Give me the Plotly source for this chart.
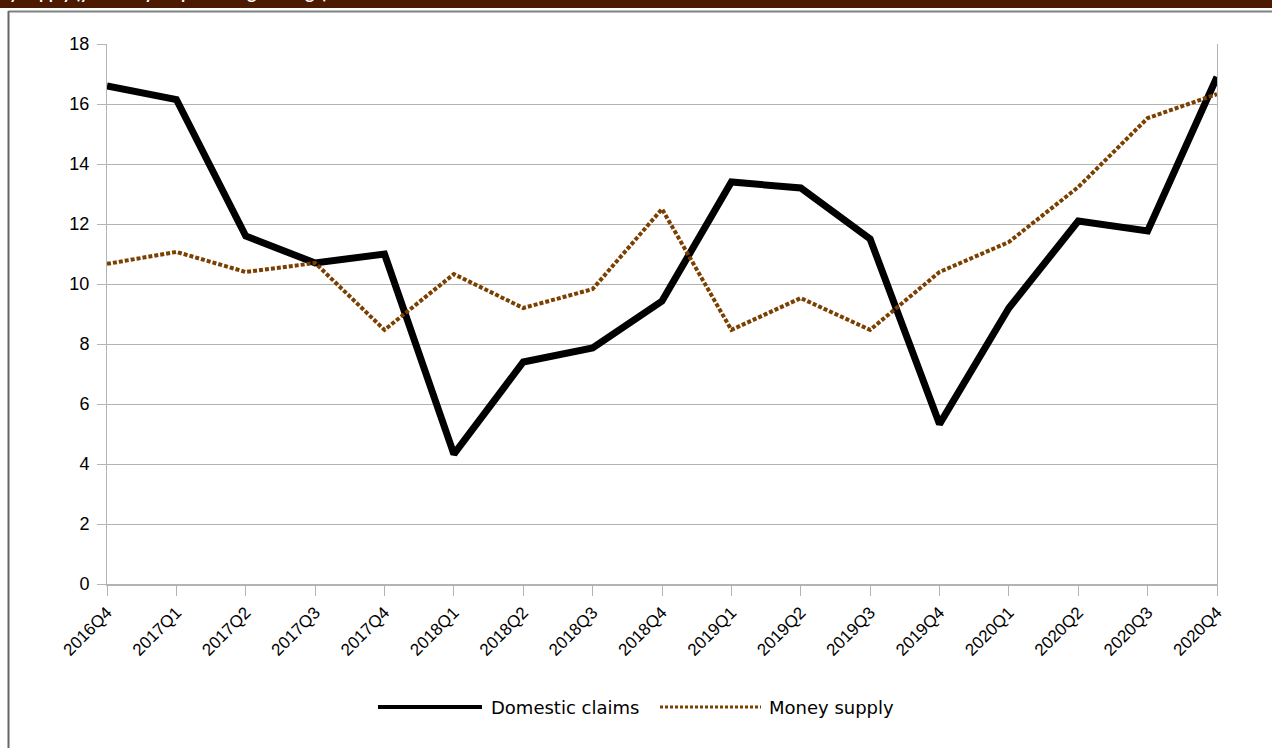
import plotly.graph_objects as go

quarters = ["2016Q4", "2017Q1", "2017Q2", "2017Q3", "2017Q4", "2018Q1", "2018Q2", "2018Q3",
            "2018Q4", "2019Q1", "2019Q2", "2019Q3", "2019Q4", "2020Q1", "2020Q2", "2020Q3", "2020Q4"]
domestic_claims = [16.6, 16.15, 11.6, 10.7, 11.0, 4.33, 7.4, 7.87, 9.43, 13.4, 13.2, 11.5,
                   5.33, 9.2, 12.1, 11.77, 16.9]
money_supply = [10.67, 11.07, 10.4, 10.7, 8.47, 10.33, 9.2, 9.83, 12.5, 8.47, 9.53, 8.47,
                10.4, 11.4, 13.23, 15.53, 16.33]
y_ticks = [0, 2, 4, 6, 8, 10, 12, 14, 16, 18]

W, H = 1272, 748
L, R, T, B = 107, 1217, 44, 584
BROWN = "#7b3f00"


def px(x):
    return (x - L) / (R - L)


def py(y):
    return (B - y) / (B - T)


fig = go.Figure()
fig.add_trace(go.Scatter(x=quarters, y=domestic_claims, mode="lines", name="Domestic claims",
                         line=dict(color="#000000", width=7), cliponaxis=False,
                         showlegend=False))
fig.add_trace(go.Scatter(x=quarters, y=money_supply, mode="lines", name="Money supply",
                         line=dict(color=BROWN, width=4, dash="4px,2px"), cliponaxis=False,
                         showlegend=False))

shapes = [
    # top banner
    dict(type="rect", xref="paper", yref="paper", x0=px(-5), x1=px(W + 5), y0=py(8), y1=py(-5),
         fillcolor="#4c1a00", line=dict(width=0), layer="above"),
    # chart frame
    dict(type="line", xref="paper", yref="paper", x0=px(8.5), x1=px(W + 5), y0=py(11.5), y1=py(11.5),
         line=dict(color="#808080", width=2)),
    dict(type="line", xref="paper", yref="paper", x0=px(8.5), x1=px(8.5), y0=py(11), y1=py(H + 5),
         line=dict(color="#666666", width=2)),
    # legend samples
    dict(type="line", xref="paper", yref="paper", x0=px(378), x1=px(482), y0=py(707), y1=py(707),
         line=dict(color="#000000", width=4)),
    dict(type="line", xref="paper", yref="paper", x0=px(660), x1=px(761), y0=py(707), y1=py(707),
         line=dict(color=BROWN, width=3, dash="3px,2px")),
]

annotations = [
    dict(xref="paper", yref="paper", x=px(489), y=py(707), xanchor="left", yanchor="middle",
         text="Domestic claims", showarrow=False,
         font=dict(family="DejaVu Sans", size=18, color="#000000")),
    dict(xref="paper", yref="paper", x=px(767), y=py(707), xanchor="left", yanchor="middle",
         text="Money supply", showarrow=False,
         font=dict(family="DejaVu Sans", size=18, color="#000000")),
    dict(xref="paper", yref="paper", x=px(330), y=py(5), xanchor="right", yanchor="bottom",
         text="<b>Domestic claims and money supply (year-on-year percentage change)</b>",
         showarrow=False, font=dict(family="Lato", size=17, color="#ffffff")),
]

fig.update_layout(
    width=W, height=H,
    margin=dict(l=L, r=W - R, t=T, b=H - B, pad=0),
    paper_bgcolor="#ffffff", plot_bgcolor="#ffffff",
    shapes=shapes, annotations=annotations,
    showlegend=False,
    xaxis=dict(type="category", range=[0, len(quarters) - 1], showgrid=False,
               showline=True, linecolor="#b3b3b3", linewidth=2,
               ticks="outside", ticklen=10, tickcolor="#b3b3b3", tickwidth=1,
               tickangle=-45, tickfont=dict(family="Liberation Sans", size=17, color="#000000"),
               zeroline=False),
    yaxis=dict(range=[0, 18], tickvals=y_ticks, showgrid=True, gridcolor="#b3b3b3", gridwidth=1,
               showline=True, linecolor="#b3b3b3", linewidth=1, mirror=True,
               ticks="outside", ticklen=9, tickcolor="#b3b3b3", ticklabelstandoff=4,
               tickfont=dict(family="Liberation Sans", size=18, color="#000000"),
               zeroline=False),
)

fig.write_html("out.html", config={"displayModeBar": False},
               post_script="document.body.style.margin='0';document.body.style.overflow='hidden';")
